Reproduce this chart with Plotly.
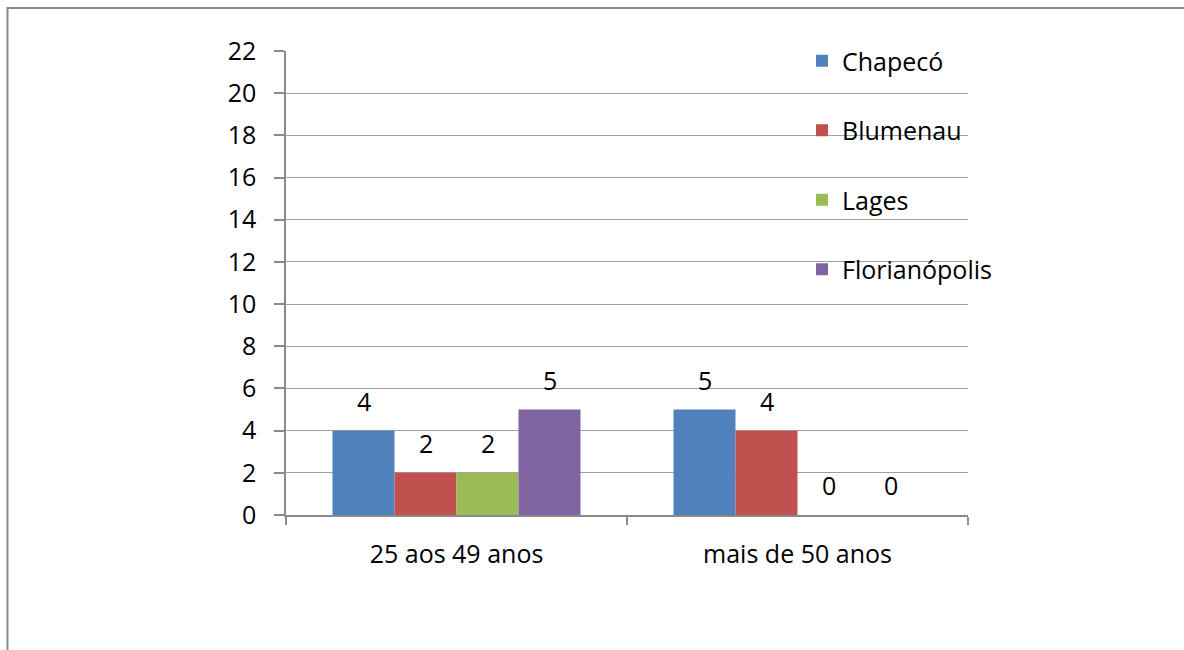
import plotly.graph_objects as go

categories = ["25 aos 49 anos", "mais de 50 anos"]
series_names = ["Chapecó", "Blumenau", "Lages", "Florianópolis"]
chapeco = [4, 5]
blumenau = [2, 4]
lages = [2, 0]
florianopolis = [5, 0]
series_values = [chapeco, blumenau, lages, florianopolis]
colors = ["#4F81BD", "#C0504D", "#9BBB59", "#8064A2"]
y_ticks = list(range(0, 23, 2))

FONT = "Open Sans"
FS = 25
BARGAP = 1.5 / 5.5

fig = go.Figure()
for i, (name, vals) in enumerate(zip(series_names, series_values)):
    fig.add_trace(go.Bar(
        x=categories, y=vals, name=name, legendgroup=name,
        marker=dict(color=colors[i], line=dict(width=0)),
    ))

# data labels above bars, positioned via the category scale
n = len(series_names)
w = (1 - BARGAP) / n
for j, vals in enumerate(series_values):
    for ci, v in enumerate(vals):
        fig.add_annotation(
            x=ci + (j - (n - 1) / 2) * w, y=v, xref="x", yref="y",
            text=str(v), showarrow=False, yanchor="middle", yshift=30,
            font=dict(family=FONT, size=FS, color="#000000"),
        )

L, R, T, B = 286, 1184 - 968, 51, 650 - 515
pw, ph = 1184 - L - R, 650 - T - B

# outer chart border
fig.add_shape(type="rect", xref="paper", yref="paper",
              x0=(7.5 - L) / pw, x1=1.5, y0=-0.6, y1=(515 - 8) / ph,
              line=dict(color="#8a8a8a", width=2), layer="below")

fig.update_layout(
    width=1184, height=650,
    margin=dict(l=L, r=R, t=T, b=B, autoexpand=False),
    paper_bgcolor="white", plot_bgcolor="white",
    barmode="group", bargap=BARGAP, bargroupgap=0,
    font=dict(family=FONT, size=FS, color="#000000"),
    showlegend=True,
    legend=dict(
        x=(802 - L) / pw, y=(515 - 38) / ph, xanchor="left", yanchor="top",
        bgcolor="rgba(0,0,0,0)", borderwidth=0, tracegroupgap=34,
        font=dict(family=FONT, size=FS, color="#000000"),
        traceorder="grouped",
    ),
    xaxis=dict(
        showline=True, linecolor="#8a8a8a", linewidth=1.5,
        ticks="outside", tickson="boundaries", ticklen=8, tickcolor="#8a8a8a",
        tickwidth=1.5, showgrid=False, ticklabelstandoff=16,
        tickfont=dict(family=FONT, size=FS),
    ),
    yaxis=dict(
        range=[0, 22], tickvals=y_ticks, showline=True, linecolor="#8a8a8a",
        linewidth=1.5, ticks="outside", ticklen=10, tickcolor="#8a8a8a",
        tickwidth=1.5, showgrid=True, gridcolor="#a0a0a0", gridwidth=1,
        zeroline=False, ticklabelstandoff=13,
        tickfont=dict(family=FONT, size=FS),
    ),
)

fig.write_html("out.html")
